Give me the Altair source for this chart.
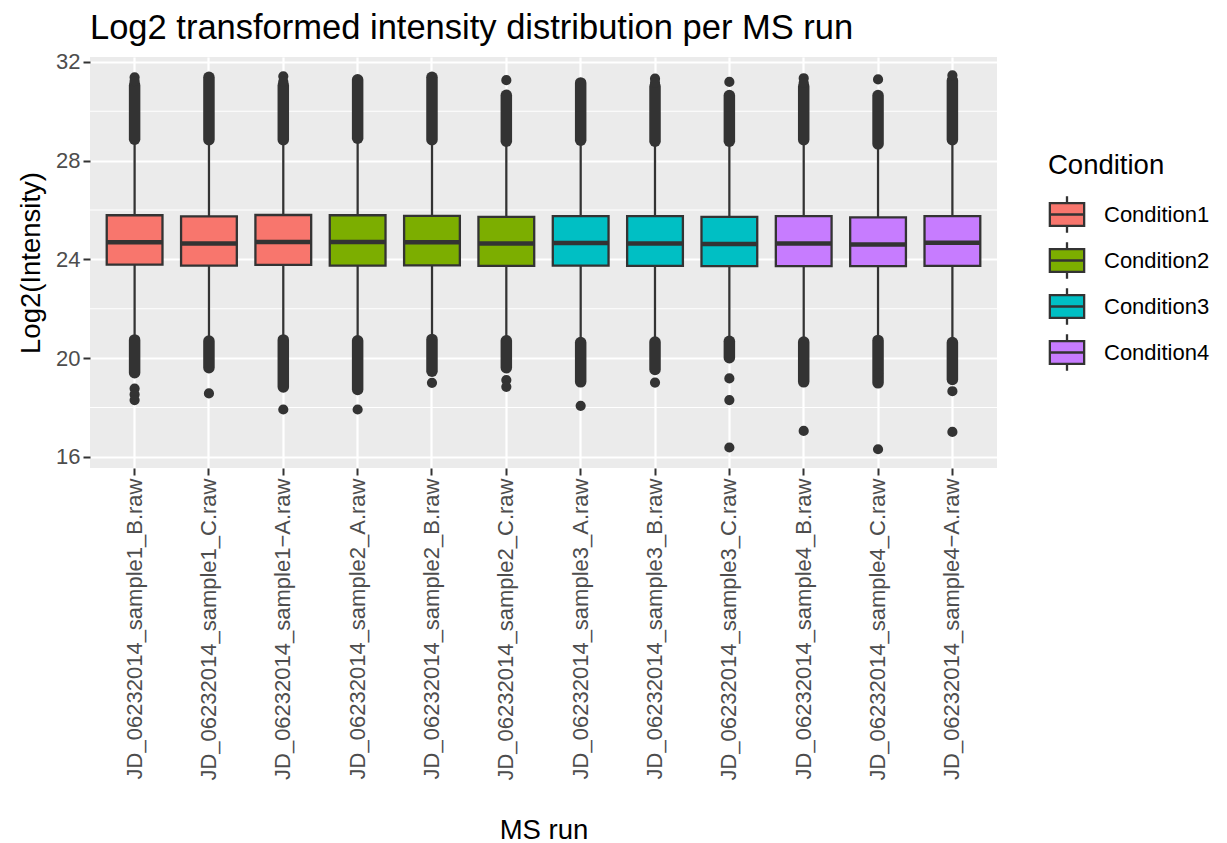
import altair as alt
import pandas as pd

runs = [
    "JD_06232014_sample1_B.raw", "JD_06232014_sample1_C.raw", "JD_06232014_sample1\u2212A.raw",
    "JD_06232014_sample2_A.raw", "JD_06232014_sample2_B.raw", "JD_06232014_sample2_C.raw",
    "JD_06232014_sample3_A.raw", "JD_06232014_sample3_B.raw", "JD_06232014_sample3_C.raw",
    "JD_06232014_sample4_B.raw", "JD_06232014_sample4_C.raw", "JD_06232014_sample4\u2212A.raw",
]
conditions = ["Condition1"] * 3 + ["Condition2"] * 3 + ["Condition3"] * 3 + ["Condition4"] * 3
condition_names = ["Condition1", "Condition2", "Condition3", "Condition4"]
condition_colors = ["#F8766D", "#7CAE00", "#00BFC4", "#C77CFF"]

q1 = [23.79, 23.75, 23.78, 23.75, 23.76, 23.74, 23.75, 23.74, 23.73, 23.73, 23.73, 23.74]
median = [24.70, 24.64, 24.71, 24.71, 24.70, 24.64, 24.66, 24.64, 24.62, 24.64, 24.60, 24.68]
q3 = [25.79, 25.74, 25.80, 25.79, 25.76, 25.72, 25.75, 25.75, 25.72, 25.75, 25.70, 25.75]
whisker_lo = [20.80, 20.75, 20.80, 20.76, 20.82, 20.76, 20.70, 20.72, 20.74, 20.72, 20.78, 20.70]
whisker_hi = [28.80, 28.78, 28.80, 28.85, 28.78, 28.72, 28.76, 28.72, 28.72, 28.78, 28.62, 28.78]

# dense runs of outliers (overlapping points) : lowest and highest value of each run
upper_dense_lo = [28.87, 28.85, 28.85, 28.91, 28.85, 28.79, 28.83, 28.79, 28.79, 28.85, 28.68, 28.85]
upper_dense_hi = [31.05, 31.38, 31.05, 31.28, 31.38, 30.65, 31.15, 31.00, 30.64, 31.00, 30.64, 31.25]
lower_dense_lo = [19.41, 19.61, 18.83, 18.73, 19.47, 19.61, 19.04, 19.54, 20.02, 19.04, 19.00, 19.14]
lower_dense_hi = [20.74, 20.69, 20.74, 20.70, 20.76, 20.70, 20.63, 20.65, 20.68, 20.65, 20.72, 20.63]

# separated single outliers
single_outliers = [
    [31.38, 31.22, 18.77, 18.53, 18.30],
    [18.57],
    [31.42, 31.20, 17.92],
    [17.92],
    [19.00],
    [31.26, 19.11, 18.84],
    [18.07],
    [31.32, 31.15, 19.01],
    [31.19, 19.18, 18.30, 16.38],
    [31.34, 31.15, 17.05],
    [31.29, 19.38, 16.31],
    [31.46, 18.66, 17.01],
]

y_ticks = [16, 20, 24, 28, 32]
y_minor = [18, 22, 26, 30]

FONT = "Liberation Sans"
DARK = "#333333"

box_df = pd.DataFrame({
    "run": runs, "condition": conditions, "q1": q1, "median": median, "q3": q3,
    "wlo": whisker_lo, "whi": whisker_hi,
    "ulo": upper_dense_lo, "uhi": upper_dense_hi,
    "llo": lower_dense_lo, "lhi": lower_dense_hi,
})
pts_df = pd.DataFrame(
    [{"run": runs[i], "value": v} for i, vals in enumerate(single_outliers) for v in vals]
)
minor_df = pd.DataFrame({"v": y_minor})

x_enc = alt.X(
    "run:N",
    sort=runs,
    scale=alt.Scale(domain=runs, paddingInner=0, paddingOuter=0.1),
    axis=alt.Axis(
        labelAngle=270, labelLimit=400, title="MS run", grid=True,
        titleY=370, titleBaseline="alphabetic",
    ),
)
y_scale = alt.Scale(domain=[15.55, 32.2], nice=False, zero=False)
y_axis = alt.Axis(values=y_ticks, title="Log2(Intensity)", grid=True, titlePadding=10)

base = alt.Chart(box_df)

minor = alt.Chart(minor_df).mark_rule(color="white", strokeWidth=1.1).encode(
    y=alt.Y("v:Q", scale=y_scale, axis=y_axis)
)

whisk = base.mark_rule(color=DARK, strokeWidth=2.3).encode(
    x=x_enc, y=alt.Y("wlo:Q", scale=y_scale, axis=y_axis), y2="whi:Q"
)

legend_symbol = "M-0.98,-0.65H0.98V0.65H-0.98Z M0,-0.65V-1.04 M0,0.65V1.04 M-0.98,0H0.98"

boxes = base.mark_bar(
    width=alt.RelativeBandSize(0.75), stroke=DARK, strokeWidth=2.3, opacity=1
).encode(
    x=x_enc,
    y=alt.Y("q1:Q", scale=y_scale, axis=y_axis),
    y2="q3:Q",
    fill=alt.Fill(
        "condition:N",
        scale=alt.Scale(domain=condition_names, range=condition_colors),
        legend=alt.Legend(
            title="Condition",
            orient="none",
            legendX=958,
            legendY=95,
            symbolType=legend_symbol,
            symbolSize=1225,
            symbolStrokeColor=DARK,
            symbolStrokeWidth=2.3,
            symbolOpacity=1,
            labelFontSize=22,
            labelColor="black",
            titleFontSize=27.5,
            titleColor="black",
            titleFontWeight="normal",
            rowPadding=0,
            labelOffset=18,
            titlePadding=16,
        ),
    ),
)

med = base.mark_tick(color=DARK, thickness=4.5, size=56, opacity=1).encode(
    x=x_enc, y=alt.Y("median:Q", scale=y_scale, axis=y_axis)
)

upper = base.mark_rule(color=DARK, strokeWidth=11.5, strokeCap="round").encode(
    x=x_enc, y=alt.Y("ulo:Q", scale=y_scale, axis=y_axis), y2="uhi:Q"
)
lower = base.mark_rule(color=DARK, strokeWidth=11.5, strokeCap="round").encode(
    x=x_enc, y=alt.Y("llo:Q", scale=y_scale, axis=y_axis), y2="lhi:Q"
)

points = alt.Chart(pts_df).mark_circle(size=104, color=DARK, opacity=1).encode(
    x=x_enc, y=alt.Y("value:Q", scale=y_scale, axis=y_axis)
)

chart = (
    alt.layer(minor, whisk, boxes, med, upper, lower, points)
    .properties(
        width=907,
        height=411,
        padding={"left": 9, "top": 2, "right": 5, "bottom": 5},
        title=alt.TitleParams(
            "Log2 transformed intensity distribution per MS run",
            anchor="start", frame="group", fontSize=34.5, font=FONT,
            fontWeight="normal", color="black", offset=4.5,
        ),
    )
    .configure(font=FONT)
    .configure_view(fill="#EBEBEB", strokeWidth=0)
    .configure_axis(
        domain=False,
        tickColor=DARK,
        tickWidth=2,
        tickSize=7,
        labelColor="#4D4D4D",
        labelFontSize=22,
        labelFont=FONT,
        labelPadding=3,
        titleFont=FONT,
        titleFontSize=27.5,
        titleColor="black",
        titleFontWeight="normal",
        gridColor="white",
        gridWidth=2.2,
    )
    .configure_legend(labelFont=FONT, titleFont=FONT)
)

chart.save("out.html", embed_options={"renderer": "svg", "actions": False})
